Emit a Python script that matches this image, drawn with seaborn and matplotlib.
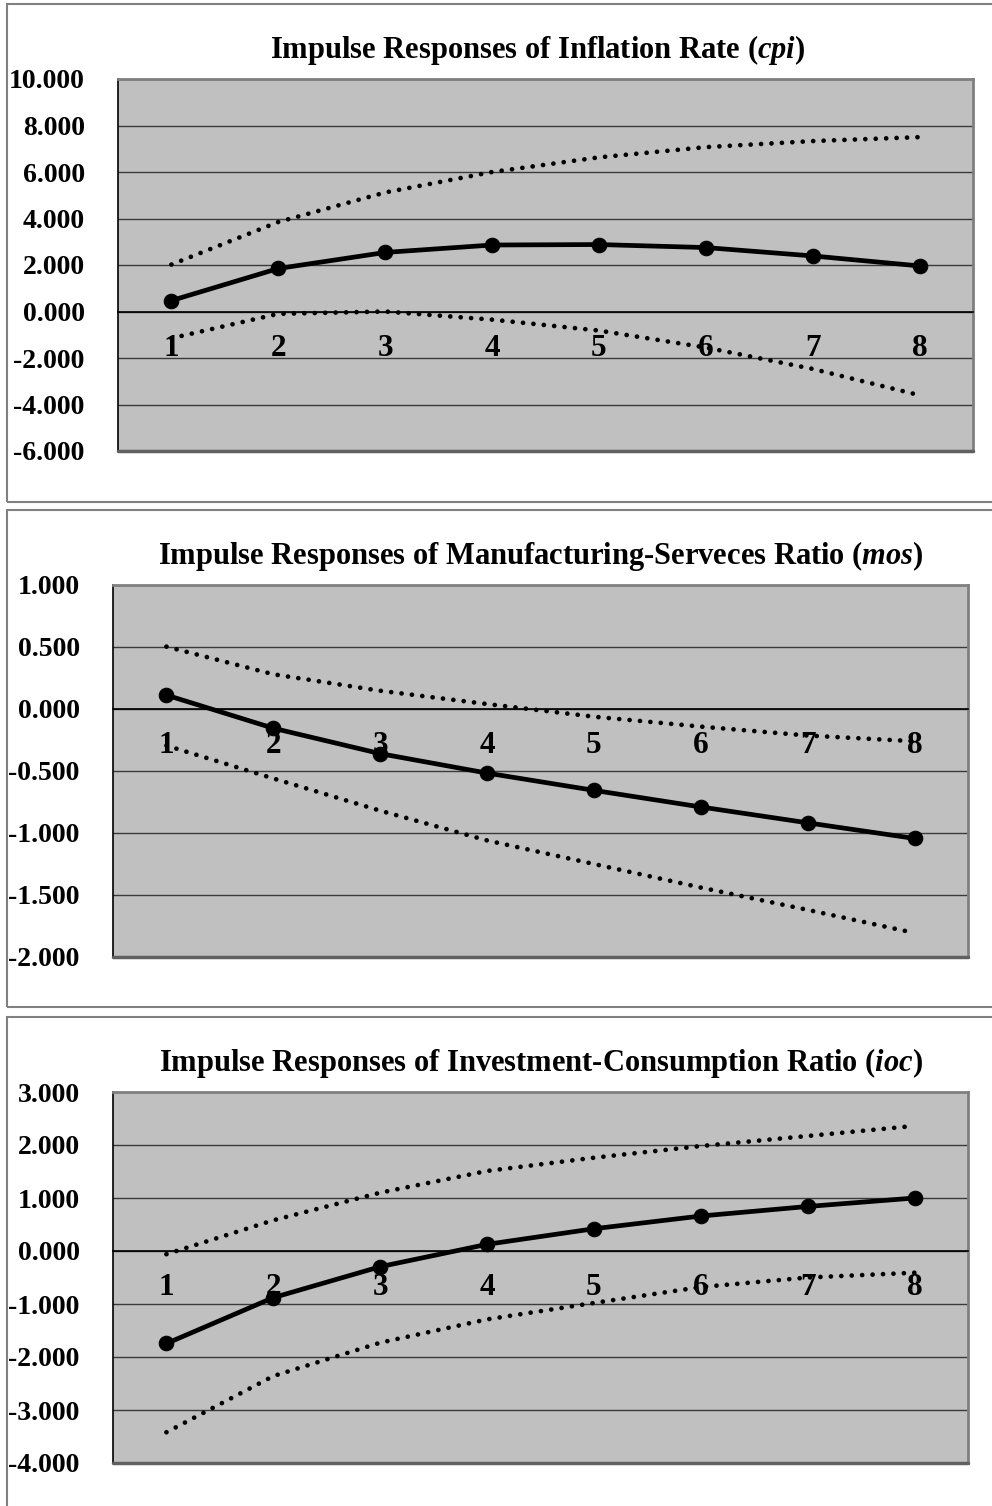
import numpy as np
import pandas as pd
import seaborn as sns
import matplotlib.pyplot as plt
from matplotlib.patches import Rectangle
from matplotlib.ticker import FuncFormatter

# periods after the shock
periods = [1, 2, 3, 4, 5, 6, 7, 8]

# inflation rate (cpi)
cpi_resp = [0.47, 1.85, 2.54, 2.86, 2.88, 2.75, 2.39, 1.96]
cpi_upper = [2.02, 3.85, 5.12, 6.00, 6.63, 7.07, 7.33, 7.50]
cpi_lower = [-1.15, -0.10, 0.00, -0.35, -0.82, -1.55, -2.47, -3.60]

# manufacturing-services ratio (mos)
mos_resp = [0.112, -0.155, -0.36, -0.517, -0.656, -0.79, -0.918, -1.044]
mos_upper = [0.503, 0.28, 0.147, 0.04, -0.062, -0.142, -0.214, -0.26]
mos_lower = [-0.295, -0.56, -0.82, -1.06, -1.25, -1.44, -1.62, -1.806]

# investment-consumption ratio (ioc)
ioc_resp = [-1.745, -0.88, -0.296, 0.126, 0.42, 0.66, 0.84, 1.0]
ioc_upper = [-0.06, 0.58, 1.10, 1.51, 1.76, 1.98, 2.17, 2.36]
ioc_lower = [-3.42, -2.36, -1.73, -1.29, -0.98, -0.68, -0.50, -0.41]

titles = [
    r"Impulse Responses of Inflation Rate ($\mathit{cpi}$)",
    r"Impulse Responses of Manufacturing-Serveces Ratio ($\mathit{mos}$)",
    r"Impulse Responses of Investment-Consumption Ratio ($\mathit{ioc}$)",
]
y_ranges = [(-6, 10, 2), (-2, 1, 0.5), (-4, 3, 1)]

W, H = 992, 1506

sns.set_style("white")
plt.rcParams['font.family'] = ['Liberation Serif', 'DejaVu Serif']
plt.rcParams['font.weight'] = 'bold'
plt.rcParams['text.color'] = 'black'
plt.rcParams['xtick.color'] = 'black'
plt.rcParams['ytick.color'] = 'black'
plt.rcParams['mathtext.fontset'] = 'custom'
plt.rcParams['mathtext.it'] = 'Liberation Serif:italic:bold'
plt.rcParams['mathtext.rm'] = 'Liberation Serif:bold'

fig = plt.figure(figsize=(W / 100, H / 100), dpi=100)

# pixel boxes: plot area (left, right, top, bottom), frame (top, bottom), title (x, y)
plot_boxes = [(118, 973, 79, 451), (113, 968, 585, 957), (113, 968, 1092, 1463)]
frames = [(4, 502), (510, 1007), (1017, 1512)]
title_pos = [(538, 50), (541, 556), (541, 1063)]

series = [
    (cpi_resp, cpi_upper, cpi_lower),
    (mos_resp, mos_upper, mos_lower),
    (ioc_resp, ioc_upper, ioc_lower),
]

for i in range(3):
    # outer chart frame
    ft, fb = frames[i]
    fig.add_artist(Rectangle((7 / W, 1 - fb / H), (998 - 7) / W, (fb - ft) / H,
                             transform=fig.transFigure, fill=False,
                             edgecolor='#808080', lw=1.5))

    l, r, t, b = plot_boxes[i]
    ax = fig.add_axes([l / W, 1 - b / H, (r - l) / W, (b - t) / H])
    ax.set_facecolor('#C0C0C0')

    resp, upper, lower = series[i]
    df = pd.DataFrame({"period": periods, "resp": resp, "upper": upper, "lower": lower})

    dotted = (0, (0.01, 2.2))
    sns.lineplot(data=df, x="period", y="upper", ax=ax, color='black', lw=3.4,
                 linestyle=dotted, dash_capstyle='round', zorder=3)
    sns.lineplot(data=df, x="period", y="lower", ax=ax, color='black', lw=3.4,
                 linestyle=dotted, dash_capstyle='round', zorder=3)
    sns.lineplot(data=df, x="period", y="resp", ax=ax, color='black', lw=3.4,
                 marker='o', markersize=10.5, markeredgecolor='black', zorder=4)

    ymin, ymax, step = y_ranges[i]
    ax.set_xlim(0.5, 8.5)
    ax.set_ylim(ymin, ymax)
    ax.set_yticks(np.arange(ymin, ymax + step / 2, step))
    ax.yaxis.set_major_formatter(FuncFormatter(lambda v, p: f"{round(v, 6) + 0.0:.3f}"))
    ax.grid(axis='y', color='#3a3a3a', lw=1)
    ax.set_axisbelow(True)
    ax.set_xlabel("")
    ax.set_ylabel("")

    # category axis crosses at zero
    ax.spines['bottom'].set_position(('data', 0))
    ax.spines['bottom'].set_color('black')
    ax.spines['bottom'].set_linewidth(1.2)
    ax.spines['left'].set_color('black')
    ax.spines['left'].set_linewidth(1.2)
    for s in ['top', 'right']:
        ax.spines[s].set_color('#808080')
        ax.spines[s].set_linewidth(2)
    ax.axhline(ymin, color='#606060', lw=2.5, clip_on=False, zorder=5)

    ax.set_xticks(periods)
    ax.set_xticklabels([str(p) for p in periods])
    ax.set_xticks(np.arange(1.5, 9, 1), minor=True)
    ax.tick_params(axis='x', which='major', length=0, pad=16, labelsize=22.5)
    ax.tick_params(axis='x', which='minor', direction='in', length=8, width=1, color='#303030')
    ax.tick_params(axis='y', direction='in', length=7, width=1.5, pad=24, labelsize=20)
    for lab in ax.get_xticklabels() + ax.get_yticklabels():
        lab.set_fontweight('bold')

    tx, ty = title_pos[i]
    fig.text(tx / W, 1 - ty / H, titles[i], ha='center', va='center',
             fontsize=22, fontweight='bold')

fig.savefig("out.png", dpi=100)
